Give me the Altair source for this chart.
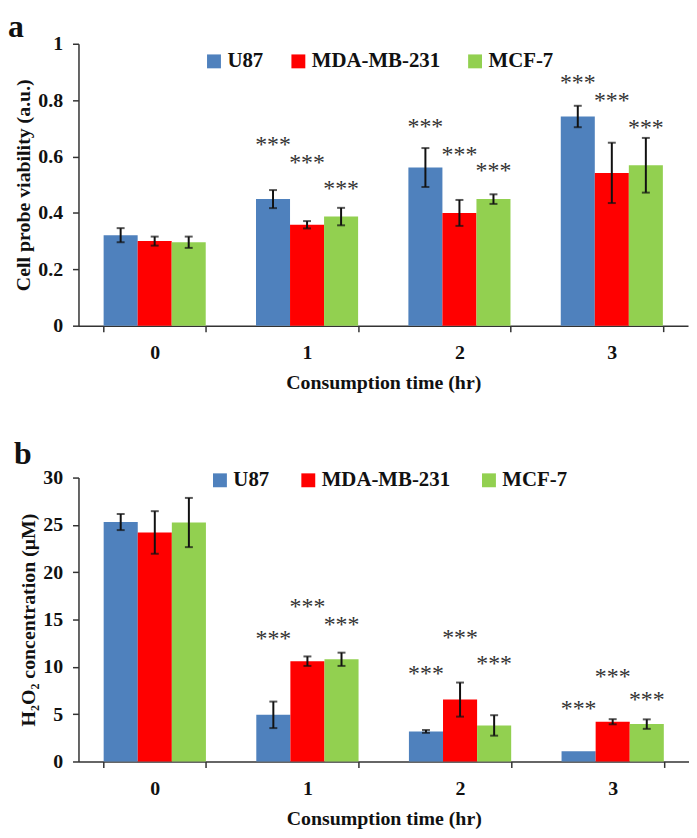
import altair as alt
import pandas as pd

FONT = "Liberation Serif"

times = ["0", "1", "2", "3"]
series = ["U87", "MDA-MB-231", "MCF-7"]
colors = ["#4F81BD", "#FF0000", "#92D050"]

# Panel a: cell probe viability (a.u.)
via_u87 = [0.321, 0.449, 0.561, 0.742]
via_u87_err = [0.025, 0.032, 0.069, 0.038]
via_mda = [0.300, 0.358, 0.400, 0.542]
via_mda_err = [0.016, 0.013, 0.046, 0.107]
via_mcf = [0.296, 0.387, 0.449, 0.569]
via_mcf_err = [0.020, 0.031, 0.017, 0.097]
via_star_u87 = [None, 0.660, 0.723, 0.877]
via_star_mda = [None, 0.596, 0.624, 0.815]
via_star_mcf = [None, 0.504, 0.565, 0.720]

# Panel b: H2O2 concentration (uM)
h2o2_u87 = [25.3, 4.93, 3.18, 1.08]
h2o2_u87_err = [0.85, 1.4, 0.15, 0.0]
h2o2_mda = [24.2, 10.6, 6.54, 4.2]
h2o2_mda_err = [2.25, 0.5, 1.8, 0.27]
h2o2_mcf = [25.25, 10.8, 3.81, 3.95]
h2o2_mcf_err = [2.6, 0.7, 1.08, 0.5]
h2o2_star_u87 = [None, 13.5, 9.76, 6.08]
h2o2_star_mda = [None, 16.8, 13.6, 9.4]
h2o2_star_mcf = [None, 14.9, 10.8, 7.03]


def make_df(vals, errs, stars):
    rows = []
    for s, v, e, st in zip(series, vals, errs, stars):
        for t, vv, ee, ss in zip(times, v, e, st):
            rows.append(dict(time=t, series=s, value=vv, lo=vv - ee, hi=vv + ee,
                             err=ee, star=ss))
    return pd.DataFrame(rows)


def panel(df, ymax, yvals, ytitle, letter, letter_xy, legend_xy, colpad, W, H):
    x_enc = alt.X("time:N", sort=times,
                  scale=alt.Scale(domain=times, paddingInner=0.33, paddingOuter=0.165),
                  axis=alt.Axis(title="Consumption time (hr)", labelAngle=0,
                                tickBand="extent", tickSize=6, labelPadding=11,
                                titlePadding=10))
    xo = alt.XOffset("series:N", sort=series,
                     scale=alt.Scale(domain=series, paddingInner=0, paddingOuter=0))
    yaxis = alt.Axis(title=ytitle, values=yvals, format="~g", grid=False,
                     tickSize=6, labelPadding=10, titlePadding=4)
    yscale = alt.Scale(domain=[0, ymax], nice=False)

    bars = alt.Chart(df).mark_bar().encode(
        x=x_enc, xOffset=xo,
        y=alt.Y("value:Q", scale=yscale, axis=yaxis),
        color=alt.Color("series:N", sort=series,
                        scale=alt.Scale(domain=series, range=colors),
                        legend=alt.Legend(orient="none", legendX=legend_xy[0],
                                          legendY=legend_xy[1], direction="horizontal",
                                          title=None, symbolType="square",
                                          symbolSize=196, symbolStrokeWidth=0,
                                          labelFont=FONT, labelFontSize=21,
                                          labelFontWeight="bold", labelColor="#111",
                                          columnPadding=colpad, labelOffset=3, padding=0)),
    )
    err_df = df[df["err"] > 0]
    rules = alt.Chart(err_df).mark_rule(color="#111", strokeWidth=2).encode(
        x=x_enc, xOffset=xo,
        y=alt.Y("lo:Q", scale=yscale, axis=yaxis), y2="hi:Q")
    cap_lo = alt.Chart(err_df).mark_tick(color="#111", size=8, thickness=2,
                                         orient="horizontal").encode(
        x=x_enc, xOffset=xo, y=alt.Y("lo:Q", scale=yscale, axis=yaxis))
    cap_hi = alt.Chart(err_df).mark_tick(color="#111", size=8, thickness=2,
                                         orient="horizontal").encode(
        x=x_enc, xOffset=xo, y=alt.Y("hi:Q", scale=yscale, axis=yaxis))
    stars = alt.Chart(df).transform_filter("isValid(datum.star)").mark_text(
        text="***", font=FONT, fontSize=24, baseline="alphabetic", dy=12,
        color="#333").encode(
        x=x_enc, xOffset=xo, y=alt.Y("star:Q", scale=yscale, axis=yaxis))
    lab = alt.Chart(pd.DataFrame({"t": [letter]})).mark_text(
        font=FONT, fontSize=32, fontWeight="bold", align="left",
        baseline="alphabetic", color="#111").encode(
        text="t:N", x=alt.value(letter_xy[0]), y=alt.value(letter_xy[1]))
    return alt.layer(bars, rules, cap_lo, cap_hi, stars, lab).properties(width=W, height=H)


pa = panel(make_df([via_u87, via_mda, via_mcf], [via_u87_err, via_mda_err, via_mcf_err],
                   [via_star_u87, via_star_mda, via_star_mcf]),
           1.0, [0, 0.2, 0.4, 0.6, 0.8, 1.0], "Cell probe viability (a.u.)",
           "a", (-71, -7), (126, 7), 24, 614, 284)
pb = panel(make_df([h2o2_u87, h2o2_mda, h2o2_mcf], [h2o2_u87_err, h2o2_mda_err, h2o2_mcf_err],
                   [h2o2_star_u87, h2o2_star_mda, h2o2_star_mcf]),
           30, [0, 5, 10, 15, 20, 25, 30], "H\u2082O\u2082 concentration (\u03bcM)",
           "b", (-65, -14), (132, -8), 28, 615, 286)

chart = alt.vconcat(pa, pb, spacing=46).resolve_scale(
    color="independent", xOffset="independent").properties(
    padding={"left": 0, "top": 0, "right": 0, "bottom": 0}
).configure_view(stroke=None).configure_axis(
    domainColor="#333", tickColor="#333", domainWidth=1.5, tickWidth=1.5,
    labelFont=FONT, labelFontWeight="bold", labelFontSize=20, labelColor="#111",
    titleFont=FONT, titleFontWeight="bold", titleFontSize=20, titleColor="#111",
)

chart.save("out.html", embed_options={"renderer": "svg", "actions": False})
